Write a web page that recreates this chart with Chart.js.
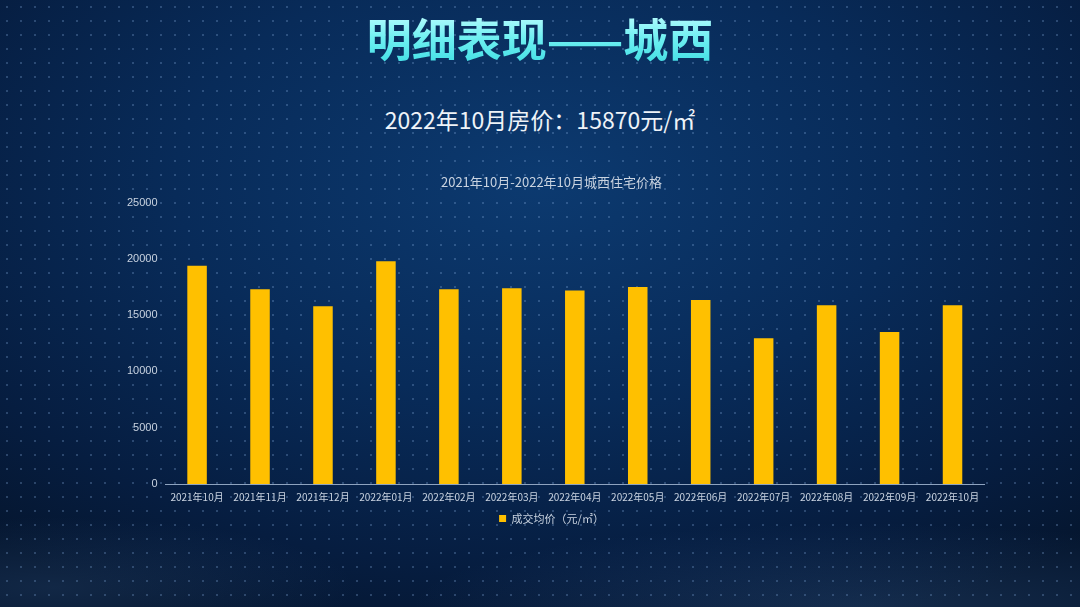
<!DOCTYPE html>
<html>
<head>
<meta charset="utf-8">
<script src="https://cdn.jsdelivr.net/npm/chart.js@4.4.1/dist/chart.umd.min.js"></script>
<style>
  html, body { margin: 0; padding: 0; }
  body {
    width: 1080px; height: 607px; overflow: hidden; position: relative;
    background: radial-gradient(ellipse 75% 80% at 50% 30%, #0c3a70 0%, #082b59 45%, #061d40 80%, #05162f 100%);
    font-family: "Noto Sans CJK SC", "Noto Sans", sans-serif;
  }
  .dots {
    position: absolute; inset: 0;
    background-image: radial-gradient(circle, rgba(140,180,230,0.28) 0.9px, transparent 1.4px);
    background-size: 14px 14px;
    pointer-events: none;
  }
  .wave {
    position: absolute; left: 0; right: 0; bottom: 0; height: 200px;
    background: radial-gradient(ellipse 60% 60% at 80% 100%, rgba(90,140,200,0.18), transparent 70%),
                radial-gradient(ellipse 40% 50% at 5% 90%, rgba(90,140,200,0.15), transparent 70%);
    pointer-events: none;
  }
  .title {
    position: absolute; left: 0; width: 1080px; top: 10px; text-align: center;
    font-size: 45px; font-weight: 700; line-height: 56px; letter-spacing: 0px;
    background: linear-gradient(180deg, #c4fdff 0%, #6ff0f2 50%, #3fdde4 100%);
    -webkit-background-clip: text; background-clip: text; color: transparent;
  }
  .sub {
    position: absolute; left: 0; width: 1080px; top: 104px; text-align: center;
    font-size: 23px; line-height: 30px; color: #eef3f8;
  }
  #wrap { position: absolute; left: 0; top: 170px; width: 1080px; height: 366px; }
</style>
</head>
<body>
<div class="dots"></div>
<div class="wave"></div>
<div class="title">明细表现——城西</div>
<div class="sub">2022年10月房价：15870元/㎡</div>
<div id="wrap"><canvas id="c"></canvas></div>
<script>
const categories = ["2021年10月","2021年11月","2021年12月","2022年01月","2022年02月","2022年03月","2022年04月","2022年05月","2022年06月","2022年07月","2022年08月","2022年09月","2022年10月"];
const seriesName = "成交均价（元/㎡）";
const avgPrice = [19400, 17300, 15800, 19800, 17300, 17400, 17200, 17500, 16350, 12950, 15870, 13500, 15870];
const chartTitle = "2021年10月-2022年10月城西住宅价格";
const yTicks = [0, 5000, 10000, 15000, 20000, 25000];

const labelColor = "#c9d3e0";
new Chart(document.getElementById("c"), {
  type: "bar",
  data: {
    labels: categories,
    datasets: [{
      label: seriesName,
      data: avgPrice,
      backgroundColor: "#FFC000",
      borderWidth: 0,
      barPercentage: 0.31,
      categoryPercentage: 1.0
    }]
  },
  options: {
    responsive: true,
    maintainAspectRatio: false,
    animation: false,
    layout: { padding: { left: 119, right: 96, top: 0, bottom: 2 } },
    plugins: {
      title: {
        display: true, text: chartTitle, color: labelColor,
        font: { size: 13, weight: "normal", family: "'Noto Sans CJK SC', sans-serif" },
        padding: { top: 4, bottom: 13 }
      },
      legend: {
        display: true, position: "bottom",
        labels: {
          color: labelColor, boxWidth: 7, boxHeight: 7, padding: 3,
          font: { size: 11, family: "'Noto Sans CJK SC', sans-serif" }
        }
      },
      tooltip: { enabled: false }
    },
    scales: {
      x: {
        grid: { display: false, drawTicks: false },
        border: { display: true, color: "#8ea3bf", width: 1 },
        ticks: {
          color: labelColor, maxRotation: 0, autoSkip: false, padding: 8,
          font: { size: 10, lineHeight: 1.0, family: "'Noto Sans CJK SC', sans-serif" }
        }
      },
      y: {
        min: 0, max: 25000,
        afterBuildTicks: (s) => { s.ticks = yTicks.map(v => ({ value: v })); },
        grid: { display: false, drawTicks: false },
        border: { display: false },
        ticks: {
          color: labelColor, padding: 8,
          callback: (v) => String(v),
          font: { size: 11, family: "'Liberation Sans', Arial, sans-serif" }
        }
      }
    }
  }
});
</script>
</body>
</html>
